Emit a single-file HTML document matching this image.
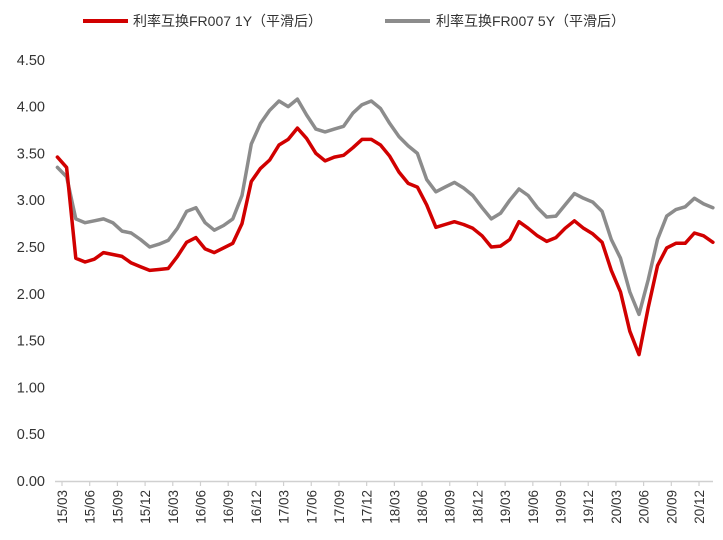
<!DOCTYPE html>
<html><head><meta charset="utf-8">
<style>
html,body{margin:0;padding:0;background:#fff;}
svg{display:block;font-family:"Liberation Sans","Noto Sans CJK SC",sans-serif;}
</style></head>
<body>
<svg id="chart" width="723" height="540" viewBox="0 0 723 540">
  <g>
    <g>
      <line x1="83" y1="21" x2="128" y2="21" stroke="#d10000" stroke-width="4"/>
      <text x="133" y="26" font-size="14" fill="#333">利率互换FR007 1Y（平滑后）</text>
    </g>
    <g>
      <line x1="385" y1="21" x2="430" y2="21" stroke="#8c8c8c" stroke-width="4"/>
      <text x="436" y="26" font-size="14" fill="#333">利率互换FR007 5Y（平滑后）</text>
    </g>
  </g>
  <g id="yaxis"></g>
  <g id="xaxis"></g>
  <g id="series"></g>
</svg>
<script>
const yTicks = [0,0.5,1,1.5,2,2.5,3,3.5,4,4.5];
const xLabels = ["15/03","15/06","15/09","15/12","16/03","16/06","16/09","16/12","17/03","17/06","17/09","17/12","18/03","18/06","18/09","18/12","19/03","19/06","19/09","19/12","20/03","20/06","20/09","20/12"];
const rate1Y = [3.46,3.35,2.38,2.34,2.37,2.44,2.42,2.40,2.33,2.29,2.25,2.26,2.27,2.40,2.55,2.60,2.48,2.44,2.49,2.54,2.75,3.20,3.34,3.43,3.59,3.65,3.77,3.66,3.50,3.42,3.46,3.48,3.56,3.65,3.65,3.59,3.47,3.30,3.18,3.14,2.95,2.71,2.74,2.77,2.74,2.70,2.62,2.50,2.51,2.58,2.77,2.70,2.62,2.56,2.60,2.70,2.78,2.70,2.64,2.55,2.25,2.02,1.60,1.35,1.85,2.30,2.49,2.54,2.54,2.65,2.62,2.55];
const rate5Y = [3.35,3.25,2.80,2.76,2.78,2.80,2.76,2.67,2.65,2.58,2.50,2.53,2.57,2.70,2.88,2.92,2.76,2.68,2.73,2.80,3.05,3.60,3.82,3.96,4.06,4.00,4.08,3.91,3.76,3.73,3.76,3.79,3.93,4.02,4.06,3.98,3.82,3.68,3.58,3.50,3.22,3.09,3.14,3.19,3.13,3.05,2.92,2.80,2.86,3.00,3.12,3.05,2.92,2.82,2.83,2.95,3.07,3.02,2.98,2.88,2.58,2.38,2.02,1.78,2.15,2.58,2.83,2.90,2.93,3.02,2.96,2.92];

const NS = "http://www.w3.org/2000/svg";
const y = v => 481 - v * 93.6;
const xm = m => 62 + m * 9.232;
const xd = i => xm(i - 0.5);

const yg = document.getElementById('yaxis');
yTicks.forEach(v => {
  const t = document.createElementNS(NS,'text');
  
  
  t.setAttribute('x',45); t.setAttribute('y',y(v)+5);
  t.setAttribute('text-anchor','end'); t.setAttribute('font-size','14.5'); t.setAttribute('fill','#333');
  t.textContent = v.toFixed(2);
  yg.appendChild(t);
});

const xg = document.getElementById('xaxis');
const ax = document.createElementNS(NS,'line');


ax.setAttribute('x1',55); ax.setAttribute('x2',713); ax.setAttribute('y1',481.5); ax.setAttribute('y2',481.5);
ax.setAttribute('stroke','#d0d0d0'); ax.setAttribute('stroke-width','1.5');
xg.appendChild(ax);
xLabels.forEach((lab,k) => {
  const px = xm(k*3);
  const tk = document.createElementNS(NS,'line');
  
  
  tk.setAttribute('x1',px); tk.setAttribute('x2',px); tk.setAttribute('y1',481); tk.setAttribute('y2',486);
  tk.setAttribute('stroke','#d0d0d0'); tk.setAttribute('stroke-width','1.2');
  xg.appendChild(tk);
  const t = document.createElementNS(NS,'text');
  
  
  t.setAttribute('transform',`translate(${px+5},490) rotate(-90)`);
  t.setAttribute('text-anchor','end'); t.setAttribute('font-size','13.5'); t.setAttribute('fill','#333');
  t.textContent = lab;
  xg.appendChild(t);
});

const sg = document.getElementById('series');
function drawLine(vals, color, name){
  const p = document.createElementNS(NS,'path');
  
  
  p.setAttribute('d', vals.map((v,i)=>(i?'L':'M')+xd(i).toFixed(1)+','+y(v).toFixed(1)).join(''));
  p.setAttribute('fill','none'); p.setAttribute('stroke',color); p.setAttribute('stroke-width','3.5');
  p.setAttribute('stroke-linejoin','round'); p.setAttribute('stroke-linecap','round');
  sg.appendChild(p);
}
drawLine(rate5Y,'#8c8c8c','line-5y');
drawLine(rate1Y,'#d10000','line-1y');
</script>
</body></html>
